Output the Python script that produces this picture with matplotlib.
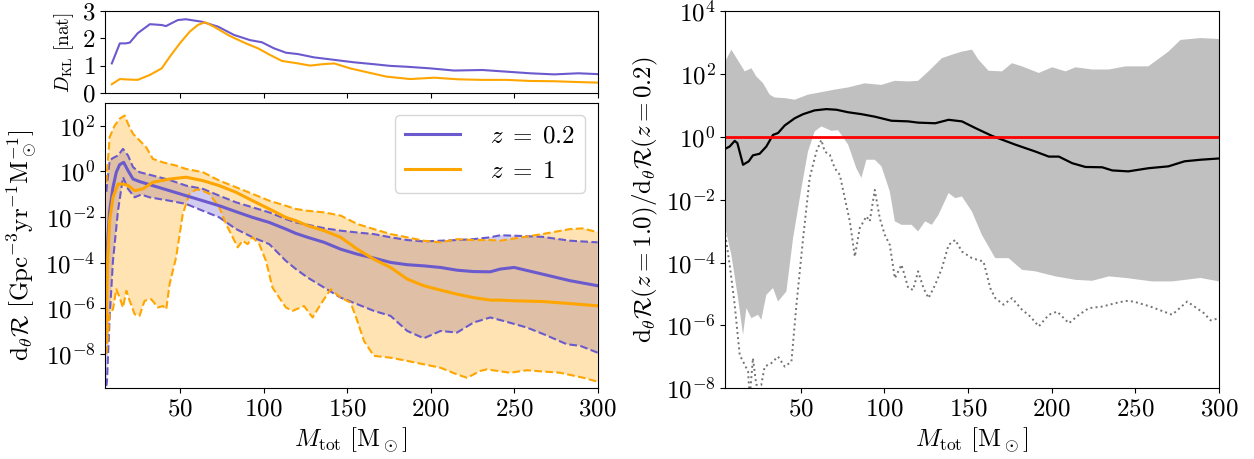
import numpy as np
import matplotlib
matplotlib.use('Agg')
import matplotlib.pyplot as plt
from matplotlib.ticker import NullLocator

plt.rcParams['mathtext.fontset'] = 'cm'
plt.rcParams['font.family'] = 'serif'
plt.rcParams['font.serif'] = ['cmr10', 'DejaVu Serif']
plt.rcParams['axes.formatter.use_mathtext'] = True
plt.rcParams['axes.unicode_minus'] = False

PURPLE = 'slateblue'
ORANGE = 'orange'

# ---- D_KL (top left) ----
m_dkl_02 = [9.1, 13.9, 17.5, 19.9, 24.6, 31.9, 39.0, 41.5, 48.6, 53.4, 63.0, 72.7, 82.2, 91.8,
            99.0, 106.2, 113.4, 120.6, 130.2, 142.2, 154.2, 166.2, 175.8, 185.3, 199.7, 214.1,
            230.9, 245.3, 259.6, 274.0, 288.4, 300]
dkl_02 = [1.09, 1.82, 1.82, 1.85, 2.19, 2.52, 2.49, 2.45, 2.67, 2.70, 2.61, 2.43, 2.13, 1.94,
          1.86, 1.64, 1.48, 1.43, 1.31, 1.22, 1.13, 1.06, 1.0, 0.97, 0.91, 0.83,
          0.85, 0.79, 0.73, 0.69, 0.73, 0.70]
m_dkl_1 = [9.1, 13.9, 19.9, 24.6, 31.9, 39.0, 43.9, 49.8, 55.8, 60.6, 64.9, 70.2, 79.8, 89.4,
           96.6, 103.8, 111.0, 120.6, 127.8, 135.0, 142.2, 151.8, 159.0, 173.4, 187.8, 202.2,
           216.6, 230.9, 245.3, 259.6, 274.0, 288.4, 300]
dkl_1 = [0.33, 0.52, 0.50, 0.49, 0.67, 0.91, 1.34, 1.82, 2.25, 2.49, 2.59, 2.43, 2.09, 1.82,
         1.64, 1.40, 1.18, 1.09, 1.01, 1.06, 1.09, 0.91, 0.81, 0.61, 0.52, 0.57,
         0.51, 0.49, 0.49, 0.45, 0.44, 0.41, 0.39]

# ---- rate, z = 0.2 (log10 values) ----
m_z02_med = [5.8, 7.8, 9.8, 11.8, 13.8, 16.2, 18.8, 21.8, 25.7, 33.7, 43.7, 53.6, 63.6, 73.5,
             83.5, 93.4, 103.4, 113.3, 119.3, 126.3, 136.2, 146.1, 156.1, 166.0, 176.0, 186.0,
             195.9, 205.9, 215.8, 225.7, 235.7, 241.7, 250, 266.8, 283.5, 300]
z02_med = [-4.0, -1.73, -0.70, -0.04, 0.29, 0.39, 0.03, -0.34, -0.45, -0.63, -0.85, -1.07, -1.29, -1.51,
           -1.77, -2.02, -2.24, -2.53, -2.72, -2.89, -3.11, -3.41, -3.63, -3.80, -3.99, -4.09,
           -4.14, -4.21, -4.33, -4.39, -4.40, -4.28, -4.21, -4.50, -4.79, -5.01]
m_z02_hi = [5.8, 7.8, 9.8, 12.8, 15.8, 18.8, 21.8, 25.7, 33.7, 43.7, 53.6, 63.6, 73.5, 83.5,
            93.4, 103.4, 113.3, 119.3, 126.3, 136.2, 146.1, 156.1, 166.0, 176.0, 186.0, 195.9,
            205.9, 215.8, 225.7, 235.7, 241.7, 250, 266.8, 283.5, 300]
z02_hi = [-0.9, 0.47, 0.58, 0.69, 0.98, 0.69, 0.18, -0.04, -0.19, -0.38, -0.63, -0.77, -1.07, -1.36,
          -1.58, -1.80, -2.09, -2.24, -2.34, -2.49, -2.60, -2.68, -2.75, -2.89, -3.01, -3.07,
          -3.04, -3.01, -2.97, -2.89, -2.80, -2.82, -2.87, -3.04, -3.11]
m_z02_lo = [5.8, 6.2, 7.8, 9.8, 12.8, 15.8, 18.8, 22.8, 26.7, 31.7, 43.7, 53.6, 63.6, 73.5,
            83.5, 93.4, 103.4, 113.3, 119.3, 126.3, 136.2, 146.1, 156.1, 166.0, 176.0, 186.0,
            195.9, 205.9, 215.8, 225.7, 235.7, 243.6, 257.6, 267.6, 281.5, 289.5, 300]
z02_lo = [-9.4, -9.2, -6.4, -3.92, -1.73, -0.26, -0.77, -1.14, -1.02, -1.14, -1.29, -1.43, -1.73, -2.02,
          -2.53, -2.89, -3.19, -3.92, -4.28, -4.65, -5.09, -5.53, -5.82, -6.11, -6.33, -6.99,
          -7.31, -6.99, -7.06, -6.62, -6.40, -6.55, -6.84, -7.13, -7.57, -7.64, -7.94]

# ---- rate, z = 1 (log10 values) ----
m_z1_med = [5.6, 6.5, 7.8, 9.8, 12.8, 15.8, 18.8, 22.8, 27.7, 33.7, 43.7, 53.6, 63.6, 73.5,
            83.5, 93.4, 103.4, 113.3, 119.3, 126.3, 136.2, 146.1, 156.1, 166.0, 176.0, 186.0,
            195.9, 205.9, 215.8, 225.7, 235.7, 241.7, 250, 266.8, 283.5, 300]
z1_med = [-7.5, -4.0, -2.16, -1.14, -0.56, -0.56, -0.62, -0.85, -0.77, -0.48, -0.34, -0.26, -0.41, -0.63,
          -0.92, -1.29, -1.65, -2.02, -2.16, -2.38, -2.60, -2.89, -3.41, -3.85, -4.21, -4.72,
          -5.01, -5.20, -5.38, -5.53, -5.64, -5.64, -5.67, -5.70, -5.79, -5.89]
m_z1_hi = [5.8, 7.8, 10.8, 13.8, 16.8, 18.8, 21.8, 25.7, 29.7, 33.7, 39.7, 47.6, 53.6, 63.6,
           73.5, 83.5, 93.4, 103.4, 113.3, 119.3, 126.3, 136.2, 146.1, 156.1, 166.0, 176.0,
           186.0, 195.9, 205.9, 215.8, 225.7, 235.7, 241.7, 266.8, 283.5, 291, 300]
z1_hi = [-0.5, 1.49, 2.0, 2.30, 2.44, 2.08, 1.64, 1.35, 1.05, 0.54, 0.39, 0.25, 0.10, -0.04,
         -0.41, -0.70, -0.99, -1.29, -1.51, -1.65, -1.73, -1.80, -1.94, -2.31, -2.53, -2.75,
         -2.89, -3.04, -3.11, -2.97, -3.01, -3.01, -3.04, -2.75, -2.53, -2.50, -2.67]
m_z1_lo = [5.8, 7.8, 9.8, 11.8, 13.8, 15.8, 17.8, 19.8, 22.8, 25.7, 28.7, 32.7, 36.7, 39.7,
           41.7, 43.7, 47.6, 51.6, 55.6, 59.6, 62.6, 67.5, 73.5, 77.5, 81.5, 84.5, 87.4, 90.4,
           93.4, 97.4, 101.4, 105.3, 109.3, 113.3, 117.3, 124.2, 129.3, 134.2, 140.2, 146.1,
           152.1, 156.1, 160.1, 166.0, 176.0, 186.0, 195.9, 205.9, 215.8, 221.8, 229.7, 233.7,
           247.6, 257.6, 277.5, 291.5, 300]
z1_lo = [-8.0, -6.26, -6.04, -5.16, -5.53, -5.96, -5.23, -5.67, -6.26, -6.33, -5.67, -5.6, -5.96, -5.9,
         -6.04, -4.94, -3.77, -1.87, -0.99, -0.80, -0.82, -0.99, -1.58, -2.31, -2.89, -3.33, -3.04, -3.19,
         -2.89, -3.19, -3.92, -5.09, -5.53, -5.96, -6.11, -5.9, -6.40, -5.82, -5.16, -5.53,
         -5.75, -6.55, -7.43, -8.08, -8.16, -8.30, -8.45, -8.60, -8.89, -9.04, -8.74, -8.67,
         -8.82, -8.71, -8.82, -9.04, -9.21]

# ---- ratio (right, log10 values) ----
m_ratio = [5, 7.6, 10.6, 12.2, 15.6, 19, 21.5, 25.5, 29.5, 33.5, 36.5, 40.5, 46.5, 51.5, 58.4,
           65.4, 71.4, 78.4, 86.3, 94.3, 104.3, 114.3, 120.2, 130.4, 138.4, 146.4, 154.3, 164.3,
           178.3, 190.3, 198.3, 204.3, 212.3, 220.2, 230.2, 236.2, 245.8, 257.8, 269.8, 279.4, 289, 300]
ratio_med = [-0.38, -0.31, -0.13, -0.2, -0.89, -0.78, -0.59, -0.54, -0.31, 0.06, 0.12, 0.36, 0.59, 0.72, 0.84,
             0.88, 0.86, 0.78, 0.72, 0.64, 0.51, 0.49, 0.45, 0.43, 0.54, 0.49, 0.28, 0.03,
             -0.25, -0.47, -0.63, -0.63, -0.84, -0.96, -0.97, -1.07, -1.10, -1.0, -0.94, -0.78, -0.73, -0.69]
m_ratio_hi = [5, 8.6, 13.6, 16.6, 20.6, 23.5, 27.5, 31.5, 34.5, 40.5, 46.5, 54.4, 62.4, 70.4, 78.4,
              88.3, 98.3, 106.3, 114.3, 120.2, 126.4, 134.4, 140.4, 146.4, 152.4, 156.3, 162.3, 170.3,
              176.3, 182.3, 192.3, 200.3, 208.3, 214.3, 224.2, 234.2, 244.2, 257.8, 269.8, 277, 289, 300]
ratio_hi = [2.40, 2.77, 2.34, 2.08, 2.18, 1.92, 1.71, 1.34, 1.25, 1.23, 1.18, 1.34, 1.42, 1.50, 1.57,
            1.70, 1.65, 1.78, 1.76, 1.78, 2.08, 2.50, 2.61, 2.71, 2.77, 2.45, 2.10, 2.08,
            2.34, 2.24, 2.03, 2.21, 2.08, 2.21, 2.14, 2.14, 2.24, 2.24, 2.71, 3.08, 3.14, 3.11]
m_ratio_lo = [5, 8.6, 12.6, 15.6, 17.6, 20.6, 24.5, 26.5, 29.5, 33.5, 36.5, 41.5, 45.5, 50.5, 54.4,
              58.4, 62.4, 68.4, 72.4, 78.4, 83.3, 86.3, 89.3, 94.3, 98.3, 103.3, 106.3, 110.3, 116.3,
              120.2, 124.4, 128.4, 132.4, 138.4, 142.4, 146.4, 152.4, 158.3, 166.3, 174.3, 182.3,
              190.3, 202.3, 214.3, 224.2, 234.2, 244.2, 260, 272, 289, 300]
ratio_lo = [-2.9, -3.75, -5.13, -6.30, -5.45, -5.77, -5.66, -5.82, -5.03, -4.81, -5.24, -4.92, -3.22, -1.63, -0.47,
            0.17, 0.33, 0.19, 0.21, -0.25, -1.0, -1.31, -0.73, -0.73, -0.94, -1.74, -2.69, -2.80, -2.80,
            -3.01, -2.69, -2.80, -2.48, -1.79, -1.95, -1.90, -2.38, -3.12, -3.86, -3.86, -4.23,
            -4.28, -4.44, -4.55, -4.58, -4.44, -4.49, -4.6, -4.6, -4.49, -4.6]
m_ratio_min = [5, 7.6, 10.6, 13.6, 16.6, 18.6, 19.6, 21.5, 23.5, 26.5, 28.5, 32.5, 36.5, 40.5, 44.5,
               47.5, 51.5, 55.4, 59.4, 62.4, 64.4, 67.4, 70.4, 73.4, 76.4, 79.4, 82.4, 85.3, 89.3,
               91.3, 94.3, 97.3, 100.3, 103.3, 106.3, 110.3, 114.3, 117.2, 120.2, 123.4, 126.4,
               130.4, 134.4, 138.4, 142.4, 146.4, 152.4, 159.3, 163.3, 166.3, 171.3, 176.3, 182.3,
               187.3, 192.3, 198.3, 203.3, 210.3, 216.3, 222.2, 230.2, 238.2, 244.2, 249, 259, 272,
               281, 291, 295, 300]
ratio_min = [-3.12, -4.07, -5.34, -6.94, -7.25, -7.47, -8.3, -7.04, -7.89, -7.89, -7.31, -7.2, -6.99, -7.31, -7.15,
             -5.34, -3.22, -1.31, -0.47, -0.10, -0.47, -0.57, -1.0, -1.21, -1.95, -2.69, -3.81, -2.91, -2.53,
             -2.69, -1.69, -2.59, -3.12, -3.44, -4.50, -4.07, -4.81, -4.87, -4.28, -4.81, -5.13,
             -4.71, -4.18, -3.44, -3.28, -3.65, -3.86, -3.97, -4.81, -5.13, -5.34, -5.13, -5.50,
             -5.72, -6.03, -5.66, -5.56, -5.93, -5.66, -5.45, -5.40, -5.29, -5.22, -5.24, -5.40, -5.66,
             -5.24, -5.61, -5.84, -5.77]

xticks = [50, 100, 150, 200, 250, 300]


def band(ax, m_hi, hi, m_lo, lo, color):
    """fill between two edges given on different mass grids"""
    xs = np.r_[m_hi, m_lo[::-1]]
    ys = 10 ** np.r_[hi, lo[::-1]]
    ax.fill(xs, ys, color=color, alpha=0.3, lw=0)


fig = plt.figure(figsize=(12.54, 4.59), dpi=100)
ax_kl = fig.add_axes([0.0837, 0.7967, 0.3929, 0.1793])
ax_r = fig.add_axes([0.0837, 0.154, 0.3929, 0.6222])
ax_q = fig.add_axes([0.5784, 0.154, 0.3937, 0.822])

# top left
ax_kl.plot(m_dkl_02, dkl_02, color=PURPLE, lw=1.5)
ax_kl.plot(m_dkl_1, dkl_1, color=ORANGE, lw=1.5)
ax_kl.set_xlim(5, 300)
ax_kl.set_ylim(0, 3)
ax_kl.set_yticks([0, 1, 2, 3])
ax_kl.set_xticks(xticks)
ax_kl.set_xticklabels([])
ax_kl.set_ylabel(r'$D_{\rm KL}\ [{\rm nat}]$', fontsize=14, labelpad=4)
ax_kl.tick_params(labelsize=18)

# bottom left
band(ax_r, m_z02_hi, z02_hi, m_z02_lo, z02_lo, PURPLE)
band(ax_r, m_z1_hi, z1_hi, m_z1_lo, z1_lo, ORANGE)
for m, v, c in [(m_z02_hi, z02_hi, PURPLE), (m_z02_lo, z02_lo, PURPLE),
                (m_z1_hi, z1_hi, ORANGE), (m_z1_lo, z1_lo, ORANGE)]:
    ax_r.plot(m, 10 ** np.array(v), color=c, ls='--', lw=1.5)
ax_r.plot(m_z02_med, 10 ** np.array(z02_med), color=PURPLE, lw=2.2, label=r'$z\;=\;0.2$')
ax_r.plot(m_z1_med, 10 ** np.array(z1_med), color=ORANGE, lw=2.2, label=r'$z\;=\;1$')
ax_r.set_yscale('log')
ax_r.set_xlim(5, 300)
ax_r.set_ylim(10 ** -9.5, 10 ** 3)
ax_r.set_yticks([1e2, 1e0, 1e-2, 1e-4, 1e-6, 1e-8])
ax_r.yaxis.set_minor_locator(NullLocator())
ax_r.set_xticks(xticks)
ax_r.tick_params(labelsize=18)
ax_r.set_xlabel(r'$M_{\rm tot}\ [{\rm M}_\odot]$', fontsize=18)
ax_r.set_ylabel(r'${\rm d}_\theta\mathcal{R}\ [{\rm Gpc}^{-3}{\rm yr}^{-1}{\rm M}_\odot^{-1}]$', fontsize=18)
ax_r.legend(loc='upper right', fontsize=18, handlelength=2.2, handletextpad=1.2)

# right
band_x = np.r_[m_ratio_hi, m_ratio_lo[::-1]]
band_y = 10 ** np.r_[ratio_hi, ratio_lo[::-1]]
ax_q.fill(band_x, band_y, color='silver', lw=0)
ax_q.plot(m_ratio_min, 10 ** np.array(ratio_min), color='0.45', ls=':', lw=1.4)
ax_q.plot(m_ratio, 10 ** np.array(ratio_med), color='black', lw=1.6)
ax_q.axhline(1, color='red', lw=2)
ax_q.set_yscale('log')
ax_q.set_xlim(5, 300)
ax_q.set_ylim(1e-8, 1e4)
ax_q.set_yticks([1e4, 1e2, 1e0, 1e-2, 1e-4, 1e-6, 1e-8])
ax_q.yaxis.set_minor_locator(NullLocator())
ax_q.set_xticks(xticks)
ax_q.tick_params(labelsize=18)
ax_q.set_xlabel(r'$M_{\rm tot}\ [{\rm M}_\odot]$', fontsize=18)
ax_q.set_ylabel(r'${\rm d}_\theta\mathcal{R}(z=1.0)/{\rm d}_\theta\mathcal{R}(z=0.2)$', fontsize=18)

fig.savefig('out.png', dpi=100)
